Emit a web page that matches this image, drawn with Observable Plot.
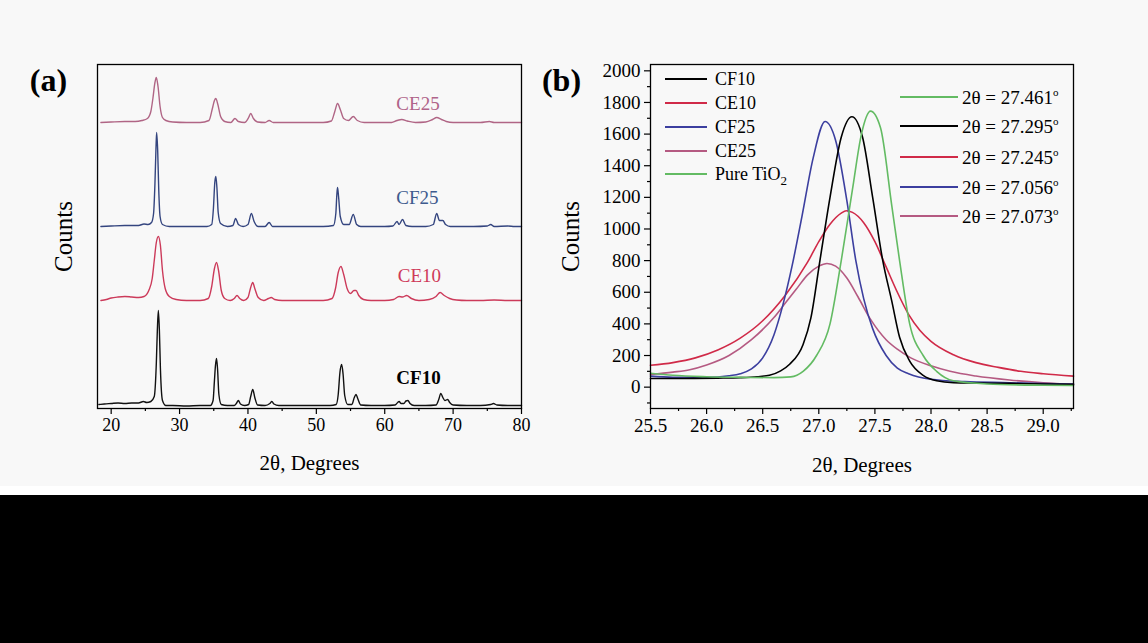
<!DOCTYPE html>
<html><head><meta charset="utf-8">
<script src="https://cdn.jsdelivr.net/npm/d3@7"></script>
<script src="https://cdn.jsdelivr.net/npm/@observablehq/plot@0.6"></script>
<style>
html,body{margin:0;padding:0;background:#000;}
#wrap{position:relative;width:1148px;height:486px;background:#f8f8f8;}
#strip{width:1148px;height:9px;background:#fff;}
#a,#b{position:absolute;top:0;}
#a{left:0;width:540px;} #b{left:540px;width:608px;}
svg text{font-family:'Liberation Serif','Times New Roman',serif;}
</style></head><body>
<div id="wrap"><div id="a"></div><div id="b"></div></div><div id="strip"></div>
<script>
// ---------- Panel (a): XRD patterns (arbitrary counts, stacked) ----------
const seriesA = ["CF10", "CE10", "CF25", "CE25"];
const cf10 = [[18.2,4],[19,4.5],[20,5],[21,5.5],[22,5],[23,5.5],[24,5.5],[24.7,7],[25.2,6],[25.8,7],
[26.3,12],[26.6,45],[26.75,78],[26.9,98],[27.05,78],[27.2,40],[27.5,8],[28,3],
[29,3],[31,2.5],[33,3],[34.5,3],[34.9,8],[35.1,28],[35.25,43],[35.4,50],[35.55,40],[35.75,14],[36.1,4],
[37,3],[38,3],[38.3,5],[38.6,8],[38.9,4.5],[39.5,3],[40.1,4],[40.4,12],[40.7,19],[41,11],[41.4,3.5],
[42.5,3],[43.2,5],[43.5,7],[43.8,4.5],[44.5,3],[46,3],[48,3],[50,3],[52,3],[52.9,4],[53.2,14],[53.45,36],[53.7,44],[53.9,35],[54.15,13],[54.6,4],[55.2,4],[55.55,11],[55.8,14],[56.05,10],[56.5,3.5],
[58,3],[60,3],[61.5,3.5],[61.9,6],[62.1,7],[62.4,5],[62.8,5],[63.1,7.5],[63.4,8],[63.7,5],[64.3,3],
[66,3],[67.5,3.5],[67.9,9],[68.2,15],[68.5,11],[68.8,8],[69.2,9],[69.5,6],[70,3.5],[72,3],[74,3],[75.5,4],[75.9,5],[76.4,3.5],[78,3],[80,3]];
const ce10 = [[18.5,108],[19.3,109],[20,110.5],[21,111.5],[22,112],[23,111.5],[24,111],[24.8,112],[25.5,118],[26,130],[26.3,148],[26.6,166],[26.9,172],[27.2,163],[27.5,138],[27.9,120],[28.5,112],[29.5,109],[31,108],[33,108],[34.2,110],[34.7,122],[35.1,140],[35.4,146],[35.7,138],[36.1,118],[36.6,110],[37.4,108],[38,110],[38.4,113],[38.8,110],[39.4,108],[40,111],[40.4,121],[40.7,126],[41,120],[41.5,111],[42.3,108],[43,110],[43.4,111],[43.9,109],[45,108],[47,108],[49,108],[51,108],[52.3,110],[52.8,120],[53.2,136],[53.6,142],[54,134],[54.5,120],[55,115],[55.5,118],[55.8,118],[56.2,113],[56.9,109],[58,108],[60,108],[61.3,109],[62.1,112],[62.6,111.5],[63.2,113],[63.9,110],[65,108],[66.5,109],[67.5,112],[68.1,116],[68.7,113],[69.5,110],[70.5,108.5],[72,108],[74,108],[76,108.5],[78,108],[80,108]];
const cf25 = [[18.5,182],[20,182.5],[22,183],[24,183],[24.8,184.5],[25.4,184],[25.9,186],[26.2,195],[26.4,225],[26.55,260],[26.65,276],[26.8,258],[26.95,220],[27.15,192],[27.5,184],[28.5,182],[30,182],[32,182],[34,182],[34.7,184],[34.95,200],[35.15,226],[35.3,232],[35.45,222],[35.65,196],[36,185],[37,182],[37.8,183],[38.2,190],[38.6,184],[39.3,182],[40,184],[40.5,195],[40.9,187],[41.5,182],[42.5,182],[43.1,186],[43.6,182],[45,182],[47,182],[49,182],[51,182],[52.5,183],[52.85,195],[53.0,214],[53.1,221],[53.25,212],[53.5,192],[54,184],[54.8,184],[55.4,194],[55.9,184],[56.5,182],[58,182],[60,182],[61.2,182.5],[61.8,187],[62.1,184],[62.6,189],[63.1,183],[64,182],[66,182],[67.1,184],[67.6,195],[68,188],[68.5,188],[68.9,184],[69.6,182],[71,182],[73,182],[75,182.5],[75.5,184],[76,182],[78,182.5],[79,182],[80,182]];
const ce25 = [[18.5,286],[20,286.5],[22,287],[23.5,287],[24.5,288],[25.3,290],[25.8,297],[26.1,310],[26.4,326],[26.6,331],[26.85,322],[27.15,302],[27.5,291],[28,288],[29,286.5],[31,286],[33,286],[34.3,288],[34.8,300],[35.1,308],[35.3,310],[35.6,304],[36,292],[36.6,287],[37.5,286],[38.1,290],[38.6,287],[39.5,286],[40.1,291],[40.4,295],[40.8,290],[41.4,286.5],[42.5,286],[43.1,288],[43.7,286],[45,286],[47,286],[49,286],[51,286],[52.2,287.5],[52.7,297],[53.1,305],[53.5,299],[54,290],[54.7,288],[55.4,292],[56,288],[57,286],[59,286],[61,286],[61.8,288],[62.5,289],[63.3,287.5],[64.5,286],[66,286.5],[67,289],[67.6,291],[68.3,289],[69,287],[70,286],[72,286],[74,286],[75.3,287],[76,286],[78,286],[80,286]];
const ticksA = [20, 30, 40, 50, 60, 70, 80];
const minorA = [25, 35, 45, 55, 65, 75];

// ---------- Panel (b): main (110) peak ----------
const seriesB = ["CF10", "CE10", "CF25", "CE25", "Pure TiO2"];
const peakPos = ["27.461", "27.295", "27.245", "27.056", "27.073"];
const cf10b = [[25.5,55],[25.8,55],[26.1,57],[26.3,60],[26.45,66],[26.56,75],[26.66,103],[26.74,145],[26.86,270],[26.93,440],[27.01,800],[27.1,1200],[27.2,1580],[27.295,1710],[27.39,1580],[27.48,1200],[27.57,800],[27.65,545],[27.72,315],[27.81,165],[27.93,75],[28.05,40],[28.2,28],[28.4,26],[28.7,24],[29.0,20],[29.27,18]];
const ce10b = [[25.5,138],[25.7,155],[25.9,185],[26.1,235],[26.3,310],[26.5,420],[26.7,580],[26.9,790],[27.0,920],[27.1,1030],[27.2,1100],[27.245,1115],[27.3,1105],[27.4,1040],[27.5,920],[27.6,760],[27.7,600],[27.8,460],[27.9,360],[28.0,290],[28.2,205],[28.4,155],[28.6,125],[28.8,100],[29.0,85],[29.27,70]];
const cf25b = [[25.5,70],[25.7,63],[26.0,62],[26.2,72],[26.3,85],[26.4,115],[26.5,185],[26.6,330],[26.68,520],[26.76,760],[26.85,1080],[26.95,1450],[27.056,1680],[27.15,1560],[27.25,1180],[27.33,800],[27.4,560],[27.48,370],[27.6,200],[27.7,120],[27.8,85],[28.0,50],[28.3,35],[28.7,28],[29.0,22],[29.27,20]];
const ce25b = [[25.5,80],[25.7,95],[25.85,110],[26.0,140],[26.2,200],[26.4,300],[26.6,440],[26.7,530],[26.8,620],[26.9,710],[27.0,765],[27.073,782],[27.15,765],[27.25,690],[27.35,570],[27.46,430],[27.6,300],[27.7,240],[27.82,185],[28.0,135],[28.17,100],[28.4,70],[28.7,45],[29.0,28],[29.27,18]];
const tio2b = [[25.5,88],[25.7,75],[26.0,66],[26.3,62],[26.6,60],[26.75,65],[26.86,100],[26.98,200],[27.1,400],[27.2,800],[27.3,1250],[27.38,1600],[27.461,1745],[27.55,1640],[27.65,1150],[27.72,800],[27.81,400],[27.93,200],[28.05,100],[28.2,40],[28.5,20],[29.0,12],[29.27,10]];
const ticksBx = [25.5, 26.0, 26.5, 27.0, 27.5, 28.0, 28.5, 29.0];
const minorBx = [25.75, 26.25, 26.75, 27.25, 27.75, 28.25, 28.75, 29.25];
const ticksBy = [0, 200, 400, 600, 800, 1000, 1200, 1400, 1600, 1800, 2000];
const minorBy = [-100, 100, 300, 500, 700, 900, 1100, 1300, 1500, 1700, 1900];

// ---------- styles ----------
const colA = {CF10: "#111111", CE10: "#cc3a5a", CF25: "#34457f", CE25: "#b06585"};
const labA = {CF10: "#000000", CE10: "#cf3a5a", CF25: "#3e5b8e", CE25: "#b0648a"};
const colB = {CF10: "#000000", CE10: "#d02a48", CF25: "#3c3f9f", CE25: "#b55a82", "Pure TiO2": "#63bb63"};
const FONT = "'Liberation Serif', 'Times New Roman', serif";
const st = {background: "transparent", fontFamily: FONT, fontSize: "18px", color: "#000", overflow: "visible"};
const P = d => d[0], Q = d => d[1];
const ax = {fontFamily: FONT, label: null, strokeWidth: 1.2};

const plotA = Plot.plot({
  width: 540, height: 490,
  marginLeft: 97, marginRight: 19, marginTop: 64, marginBottom: 82,
  x: {domain: [18, 80]},
  y: {domain: [0, 344], axis: null},
  style: st,
  marks: [
    Plot.line(cf10, {x: P, y: Q, stroke: colA.CF10, strokeWidth: 1.4, curve: "monotone-x"}),
    Plot.line(ce10, {x: P, y: Q, stroke: colA.CE10, strokeWidth: 1.4, curve: "monotone-x"}),
    Plot.line(cf25, {x: P, y: Q, stroke: colA.CF25, strokeWidth: 1.4, curve: "monotone-x"}),
    Plot.line(ce25, {x: P, y: Q, stroke: colA.CE25, strokeWidth: 1.4, curve: "monotone-x"}),
    Plot.frame({stroke: "#000", strokeWidth: 1.3}),
    Plot.axisX(ticksA, {...ax, tickSize: 6, tickPadding: 4, fontSize: 18, tickFormat: d => String(d)}),
    Plot.axisX(minorA, {...ax, tickSize: 3, tickFormat: () => ""}),
    Plot.text(["CE25"], {text: d => d, x: 61.7, y: 305, fill: labA.CE25, fontSize: 19, textAnchor: "start", lineAnchor: "middle"}),
    Plot.text(["CF25"], {text: d => d, x: 61.7, y: 211, fill: labA.CF25, fontSize: 19, textAnchor: "start", lineAnchor: "middle"}),
    Plot.text(["CE10"], {text: d => d, x: 61.9, y: 133, fill: labA.CE10, fontSize: 19, textAnchor: "start", lineAnchor: "middle"}),
    Plot.text(["CF10"], {text: d => d, x: 61.7, y: 31, fill: labA.CF10, fontSize: 19, fontWeight: "bold", textAnchor: "start", lineAnchor: "middle"}),
    Plot.text(["2θ, Degrees"], {text: d => d, frameAnchor: "bottom", dy: 55, fontSize: 21, textAnchor: "middle", lineAnchor: "middle"}),
    Plot.text(["Counts"], {text: d => d, frameAnchor: "left", rotate: -90, dx: -34, fontSize: 25, textAnchor: "middle", lineAnchor: "middle"}),
    Plot.text(["(a)"], {text: d => d, frameAnchor: "top-left", dx: -49, dy: 16, fontSize: 32, fontWeight: "bold", textAnchor: "middle", lineAnchor: "middle"})
  ]
});
document.getElementById("a").append(plotA);

const plotB = Plot.plot({
  width: 608, height: 490,
  marginLeft: 110, marginRight: 75, marginTop: 64, marginBottom: 82,
  x: {domain: [25.5, 29.27]},
  y: {domain: [-135, 2040]},
  style: st,
  marks: [
    Plot.line(ce10b, {x: P, y: Q, stroke: colB.CE10, strokeWidth: 1.6, curve: "monotone-x"}),
    Plot.line(ce25b, {x: P, y: Q, stroke: colB.CE25, strokeWidth: 1.6, curve: "monotone-x"}),
    Plot.line(cf25b, {x: P, y: Q, stroke: colB.CF25, strokeWidth: 1.6, curve: "monotone-x"}),
    Plot.line(cf10b, {x: P, y: Q, stroke: colB.CF10, strokeWidth: 1.6, curve: "monotone-x"}),
    Plot.line(tio2b, {x: P, y: Q, stroke: colB["Pure TiO2"], strokeWidth: 1.6, curve: "monotone-x"}),
    Plot.frame({stroke: "#000", strokeWidth: 1.3}),
    Plot.axisX(ticksBx, {...ax, tickSize: 6, tickPadding: 4, fontSize: 19, tickFormat: d => d.toFixed(1)}),
    Plot.axisX(minorBx, {...ax, tickSize: 3, tickFormat: () => ""}),
    Plot.axisY(ticksBy, {...ax, tickSize: 6, tickPadding: 4, fontSize: 19, tickFormat: d => String(d)}),
    Plot.axisY(minorBy, {...ax, tickSize: 3, tickFormat: () => ""}),
    Plot.text(["2θ, Degrees"], {text: d => d, frameAnchor: "bottom", dy: 57, fontSize: 21, textAnchor: "middle", lineAnchor: "middle"}),
    Plot.text(["Counts"], {text: d => d, frameAnchor: "left", rotate: -90, dx: -80, fontSize: 25, textAnchor: "middle", lineAnchor: "middle"}),
    Plot.text(["(b)"], {text: d => d, frameAnchor: "top-left", dx: -89, dy: 16, fontSize: 32, fontWeight: "bold", textAnchor: "middle", lineAnchor: "middle"})
  ]
});
document.getElementById("b").append(plotB);

// legends inside panel (b)
const svgB = d3.select(plotB);
const lg1 = svgB.append("g").attr("font-family", FONT).attr("font-size", 18).attr("fill", "#000");
const rows1 = [79, 103, 127, 151, 174];
seriesB.forEach((s, i) => {
  lg1.append("line").attr("x1", 125).attr("x2", 167).attr("y1", rows1[i]).attr("y2", rows1[i])
    .attr("stroke", colB[s]).attr("stroke-width", 2);
  const t = lg1.append("text").attr("x", 175).attr("y", rows1[i]).attr("dy", "0.35em").attr("text-anchor", "start");
  if (s === "Pure TiO2") {
    t.append("tspan").text("Pure TiO");
    t.append("tspan").attr("dy", 5).attr("font-size", 13).text("2");
  } else t.text(s);
});
const rowSeries = ["Pure TiO2", "CF10", "CE10", "CF25", "CE25"];
const rows2 = [97, 126, 157, 187, 216];
const lg2 = svgB.append("g").attr("font-family", FONT).attr("font-size", 19).attr("fill", "#000");
rowSeries.forEach((s, i) => {
  lg2.append("line").attr("x1", 360).attr("x2", 418).attr("y1", rows2[i]).attr("y2", rows2[i])
    .attr("stroke", colB[s]).attr("stroke-width", 2);
  const t = lg2.append("text").attr("x", 422).attr("y", rows2[i]).attr("dy", "0.35em").attr("text-anchor", "start");
  t.append("tspan").text("2θ = " + peakPos[i]);
  t.append("tspan").attr("dy", -8).attr("font-size", 11).text("o");
});
</script>
</body></html>
